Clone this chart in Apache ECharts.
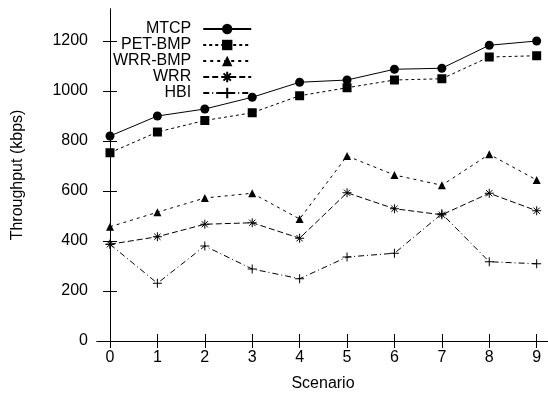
<!DOCTYPE html>
<html>
<head>
<meta charset="utf-8">
<script src="https://cdn.jsdelivr.net/npm/echarts@6/dist/echarts.min.js"></script>
<style>html,body{margin:0;padding:0;background:#fff}#c{width:548px;height:394px}</style>
</head>
<body>
<div id="c"></div>
<script>
const scenarios = [0, 1, 2, 3, 4, 5, 6, 7, 8, 9];
const mtcp    = [820, 900, 928, 975, 1035, 1044, 1087, 1091, 1183, 1200];
const petBmp  = [753, 836, 882, 913, 981, 1013, 1044, 1049, 1136, 1141];
const wrrBmp  = [457, 515, 572, 591, 488, 740, 664, 623, 747, 644];
const wrr     = [387, 417, 467, 473, 411, 593, 529, 505, 591, 521];
const hbi     = [387, 231, 380, 288, 249, 336, 351, 509, 317, 309];
const yTicks  = [0, 200, 400, 600, 800, 1000, 1200];
const xTicks  = [0, 1, 2, 3, 4, 5, 6, 7, 8, 9];

const FONT = "'Liberation Sans', Arial, sans-serif";
const FS = 16;
const pts = arr => scenarios.map((s, i) => [s, arr[i]]);
const plusPath = 'path://M0,-1L0,1M-1,0L1,0';
const starPath = 'path://M0,-1L0,1M-1,0L1,0M-0.7,-0.7L0.7,0.7M-0.7,0.7L0.7,-0.7';

function mk(name, data, symbol, size, dash, stroke) {
  return {
    name, type: 'line', data: pts(data), symbol, symbolSize: size,
    showSymbol: true,
    lineStyle: { color: '#000', width: 1, type: dash },
    itemStyle: stroke ? { color: 'none', borderColor: '#000', borderWidth: 1 } : { color: '#000' },
    emphasis: { disabled: true }
  };
}

const chart = echarts.init(document.getElementById('c'), null, { renderer: 'canvas' });
const axisCommon = {
  axisLine: { show: true, lineStyle: { color: '#000', width: 1 } },
  splitLine: { show: false }
};
const plain = v => String(v);
chart.setOption({
  animation: false,
  textStyle: { fontFamily: FONT, color: '#000' },
  grid: { left: 97, right: -1, top: 9, bottom: 53, containLabel: false, outerBoundsMode: 'none' },
  legend: {
    orient: 'vertical', align: 'right', left: 108, top: 16,
    itemWidth: 48, itemHeight: 13, itemGap: 0,
    textStyle: { fontFamily: FONT, fontSize: FS, color: '#000', padding: [0, 7, 0, 0] },
    data: ['MTCP', 'PET-BMP', 'WRR-BMP', 'WRR', 'HBI']
  },
  xAxis: [{
    type: 'value', min: -0.274, max: 9.26, position: 'bottom',
    name: 'Scenario', nameLocation: 'middle', nameGap: 35,
    nameTextStyle: { fontFamily: FONT, fontSize: FS, color: '#000' },
    ...axisCommon,
    axisTick: { inside: true, length: 7, customValues: xTicks, lineStyle: { color: '#000' } },
    axisLabel: { customValues: xTicks, margin: 9, formatter: plain, fontFamily: FONT, fontSize: FS, color: '#000' }
  }, {
    type: 'value', min: -0.274, max: 9.26, position: 'top',
    ...axisCommon,
    axisTick: { inside: true, length: 7, customValues: xTicks, lineStyle: { color: '#000' } },
    axisLabel: { show: false }
  }],
  yAxis: [{
    type: 'value', min: 0, max: 1328, position: 'left',
    name: 'Throughput (kbps)', nameLocation: 'middle', nameGap: 71,
    nameTextStyle: { fontFamily: FONT, fontSize: FS, color: '#000' },
    ...axisCommon,
    axisTick: { inside: true, length: 7, customValues: yTicks, lineStyle: { color: '#000' } },
    axisLabel: { customValues: yTicks, margin: 9, formatter: plain, fontFamily: FONT, fontSize: FS, color: '#000' }
  }, {
    type: 'value', min: 0, max: 1328, position: 'right',
    ...axisCommon,
    axisTick: { inside: true, length: 7, customValues: yTicks, lineStyle: { color: '#000' } },
    axisLabel: { show: false }
  }],
  series: [
    mk('MTCP', mtcp, 'circle', 9, 'solid', false),
    mk('PET-BMP', petBmp, 'rect', 9, [3, 3], false),
    mk('WRR-BMP', wrrBmp, 'triangle', 8, [3, 4], false),
    mk('WRR', wrr, starPath, 9, [6, 3], true),
    mk('HBI', hbi, plusPath, 9, [6, 3, 1, 3], true)
  ]
});
</script>
</body>
</html>
